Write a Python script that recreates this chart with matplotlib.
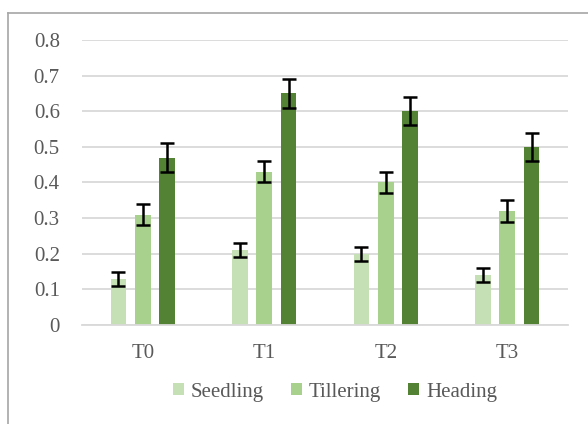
import numpy as np
import matplotlib
matplotlib.use("Agg")
import matplotlib.pyplot as plt
from matplotlib.lines import Line2D

# values
groups = ["T0", "T1", "T2", "T3"]
stages = ["Seedling", "Tillering", "Heading"]
seedling = [0.13, 0.21, 0.20, 0.14]
tillering = [0.31, 0.43, 0.40, 0.32]
heading = [0.47, 0.65, 0.60, 0.50]
seedling_err = [0.02, 0.02, 0.02, 0.02]
tillering_err = [0.03, 0.03, 0.03, 0.03]
heading_err = [0.04, 0.04, 0.04, 0.04]
yticks = [0, 0.1, 0.2, 0.3, 0.4, 0.5, 0.6, 0.7, 0.8]
ytick_labels = ["0", "0.1", "0.2", "0.3", "0.4", "0.5", "0.6", "0.7", "0.8"]

colors = ["#C5E0B4", "#A9D18E", "#548235"]
text_color = "#595959"

plt.rcParams["font.family"] = ["Liberation Serif", "DejaVu Serif"]

fig = plt.figure(figsize=(5.88, 4.24), dpi=100)
ax = fig.add_axes([0.1395, 0.2335, 0.966 - 0.1395, 0.9057 - 0.2335])

x = np.arange(len(groups))
width = 0.128
offsets = [-0.2, 0.0, 0.2]
series = [seedling, tillering, heading]
errs = [seedling_err, tillering_err, heading_err]

for vals, err, off, col, name in zip(series, errs, offsets, colors, stages):
    ax.bar(x + off, vals, width, color=col, label=name, zorder=2)
    ax.errorbar(x + off, vals, yerr=err, fmt="none", ecolor="black",
                elinewidth=1.8, capsize=4.8, capthick=1.8, zorder=3)

ax.set_xlim(-0.5, len(groups) - 0.5)
ax.set_ylim(0, 0.8)
ax.set_yticks(yticks)
ax.set_yticklabels(ytick_labels)
ax.set_xticks(x)
ax.set_xticklabels(groups)
ax.yaxis.grid(True, color="#D9D9D9", linewidth=1.3, zorder=0)
ax.set_axisbelow(True)
for s in ["top", "right", "left"]:
    ax.spines[s].set_visible(False)
ax.spines["bottom"].set_color("#D9D9D9")
ax.spines["bottom"].set_linewidth(1.3)
ax.tick_params(axis="both", length=0, labelsize=15, labelcolor=text_color)
ax.tick_params(axis="y", pad=16)
ax.tick_params(axis="x", pad=14)

leg = fig.legend(loc="center", bbox_to_anchor=(0.57, 1 - 392 / 424), ncol=3,
                 frameon=False, fontsize=15, handlelength=0.5, handleheight=0.5,
                 handletextpad=0.35, columnspacing=1.3)
for t in leg.get_texts():
    t.set_color(text_color)

# outer chart border (left and top visible)
fig.add_artist(Line2D([8 / 588, 8 / 588], [0, 1 - 13 / 424], color="#A6A6A6", lw=1.2))
fig.add_artist(Line2D([8 / 588, 1], [1 - 13 / 424, 1 - 13 / 424], color="#A6A6A6", lw=1.2))

fig.savefig("out.png", dpi=100)
